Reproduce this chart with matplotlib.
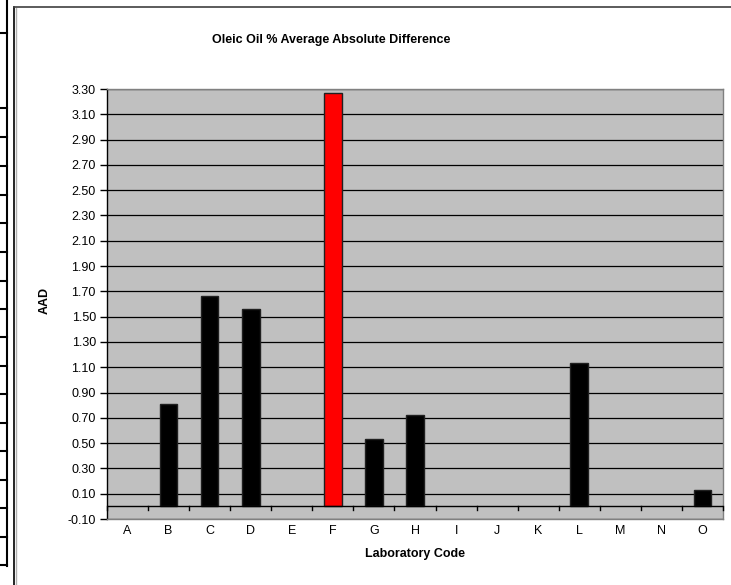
import matplotlib
matplotlib.use("Agg")
import matplotlib.pyplot as plt
from matplotlib.lines import Line2D
import numpy as np

plt.rcParams['font.family'] = ['Liberation Sans', 'DejaVu Sans']

categories = ['A', 'B', 'C', 'D', 'E', 'F', 'G', 'H', 'I', 'J', 'K', 'L', 'M', 'N', 'O']
values = [0, 0.81, 1.66, 1.56, 0, 3.27, 0.53, 0.72, 0, 0, 0, 1.13, 0, 0, 0.13]
highlight = 'F'
yticks = [round(-0.10 + 0.2 * i, 2) for i in range(18)]

W, H = 731, 585
fig = plt.figure(figsize=(W / 100, H / 100), dpi=100)

# left spreadsheet table remnants
fig.add_artist(Line2D([7 / W, 7 / W], [1, 1 - 566 / H], color='black', lw=1.5, transform=fig.transFigure))
for yy in [33, 108, 137, 166, 195, 223, 252, 281, 309, 337, 366, 394, 423, 451, 480, 508, 537, 565]:
    fig.add_artist(Line2D([0, 7 / W], [1 - yy / H, 1 - yy / H], color='black', lw=1.5, transform=fig.transFigure))

# chart frame
fig.add_artist(Line2D([14 / W, 14 / W], [1 - 7 / H, 0], color='black', lw=1.2, transform=fig.transFigure))
fig.add_artist(Line2D([15.5 / W, 15.5 / W], [1 - 8 / H, 0], color='#b0b0b0', lw=1.0, transform=fig.transFigure))
fig.add_artist(Line2D([14 / W, 1], [1 - 7 / H, 1 - 7 / H], color='#404040', lw=1.2, transform=fig.transFigure))

left, right, top, bottom = 107, 723, 89, 519
ax = fig.add_axes([left / W, 1 - bottom / H, (right - left) / W, (bottom - top) / H])
ax.set_facecolor('#c0c0c0')

x = np.arange(len(categories))
colors = ['red' if c == highlight else 'black' for c in categories]
lws = [1.0 if v != 0 else 0.0 for v in values]
ax.bar(x, values, width=0.43, color=colors, edgecolor='#202020', linewidth=lws, zorder=3)

ax.set_xlim(-0.5, len(categories) - 0.5)
ax.set_ylim(-0.10, 3.30)
ax.set_yticks(yticks)
ax.set_yticklabels([f"{t:.2f}" for t in yticks], fontsize=9)
ax.yaxis.grid(True, color='black', lw=0.9, zorder=1)
ax.set_axisbelow(True)
ax.tick_params(axis='y', direction='out', length=5, width=1, color='black', pad=3)

ax.set_xticks(x)
ax.set_xticklabels(categories, fontsize=9)
ax.tick_params(axis='x', length=0, pad=4)

# category axis at zero with tick marks between categories
ax.axhline(0, color='black', lw=1.0, zorder=4)
for b in np.arange(-0.5, len(categories) + 0.5, 1.0):
    ax.plot([b, b], [0, -0.032], color='black', lw=1.0, zorder=4, clip_on=False)

for s in ['top', 'right', 'bottom']:
    ax.spines[s].set_color('#808080')
    ax.spines[s].set_linewidth(1.0)
ax.spines['left'].set_color('black')
ax.spines['left'].set_linewidth(1.0)

fig.text(331 / W, 1 - 40 / H, 'Oleic Oil % Average Absolute Difference', ha='center', va='center',
         fontsize=9, fontweight='bold')
fig.text(45 / W, 1 - 300 / H, 'AAD', rotation=90, ha='center', va='center', fontsize=9, fontweight='bold')
fig.text(415 / W, 1 - 554 / H, 'Laboratory Code', ha='center', va='center', fontsize=9, fontweight='bold')

fig.savefig('out.png', dpi=100)
